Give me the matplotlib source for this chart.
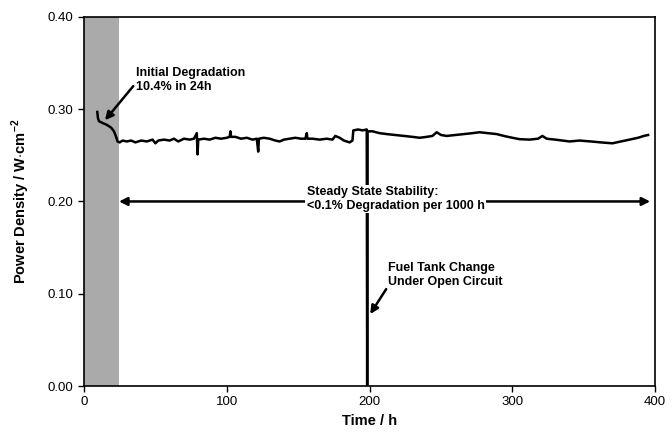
import matplotlib
matplotlib.use('Agg')
import matplotlib.pyplot as plt

plt.rcParams['font.family'] = ['Liberation Sans', 'DejaVu Sans']
plt.rcParams['mathtext.fontset'] = 'custom'
plt.rcParams['mathtext.rm'] = 'Liberation Sans'
plt.rcParams['mathtext.bf'] = 'Liberation Sans:bold'

# time (h) and power density (W/cm2)
time = [9.3, 9.8, 10.5, 13, 16, 19, 21, 22.5, 23.5, 25, 27, 30, 33, 36, 40, 44, 48, 50, 52,
        56, 60, 63, 66, 70, 74, 77, 79, 79.5, 80, 84, 88, 92, 96, 100, 102, 102.5, 103,
        106, 110, 114, 118, 121, 122, 122.5, 126, 130, 134, 137, 140, 144, 148, 152, 155,
        156, 156.5, 160, 165, 170, 174, 176, 179, 182, 186, 188, 188.6, 192, 195, 198,
        198.3, 198.6, 202, 207, 212, 218, 224, 230, 235, 240, 244, 247, 250, 254, 260,
        266, 272, 277, 283, 289, 294, 300, 305, 312, 318, 321, 324, 330, 335, 340, 347,
        355, 362, 370, 376, 382, 388, 392, 395]
power = [0.297, 0.290, 0.287, 0.285, 0.283, 0.280, 0.276, 0.270, 0.265, 0.264, 0.266, 0.265,
         0.266, 0.264, 0.266, 0.265, 0.267, 0.263, 0.266, 0.267, 0.266, 0.268, 0.265, 0.268,
         0.267, 0.268, 0.274, 0.251, 0.267, 0.268, 0.267, 0.269, 0.268, 0.269, 0.270, 0.276,
         0.270, 0.270, 0.268, 0.269, 0.267, 0.268, 0.254, 0.268, 0.269, 0.268, 0.266, 0.265,
         0.267, 0.268, 0.269, 0.268, 0.268, 0.274, 0.268, 0.268, 0.267, 0.268, 0.267, 0.271,
         0.269, 0.266, 0.264, 0.266, 0.277, 0.278, 0.277, 0.278, 0.0, 0.276, 0.276, 0.274,
         0.273, 0.272, 0.271, 0.270, 0.269, 0.270, 0.271, 0.275, 0.272, 0.271, 0.272, 0.273,
         0.274, 0.275, 0.274, 0.273, 0.271, 0.269, 0.2675, 0.267, 0.268, 0.271, 0.268, 0.267,
         0.266, 0.265, 0.266, 0.265, 0.264, 0.263, 0.265, 0.267, 0.269, 0.271, 0.272]

degradation_end = 24.5
xticks = [0, 100, 200, 300, 400]
yticks = [0.0, 0.1, 0.2, 0.3, 0.4]

fig = plt.figure(figsize=(6.72, 4.33), dpi=100)
ax = fig.add_axes([0.125, 0.1085, 0.85, 0.8525])

ax.axvspan(0, degradation_end, color='#aaaaaa', lw=0)
ax.plot(time, power, color='black', lw=1.8)

ax.set_xlim(0, 400)
ax.set_ylim(0, 0.4)
ax.set_xticks(xticks)
ax.set_yticks(yticks)
ax.set_yticklabels(['%.2f' % v for v in yticks])
ax.tick_params(labelsize=9.5, direction='out', length=4, width=1)
for s in ax.spines.values():
    s.set_linewidth(1.2)

ax.set_xlabel('Time / h', fontsize=10.5, fontweight='bold', labelpad=4)
ax.set_ylabel('Power Density / W$\\cdot$cm$^{\\mathbf{-2}}$', fontsize=10.5,
              fontweight='bold', labelpad=11)

arrow = dict(arrowstyle='-|>', color='black', lw=1.8, mutation_scale=12,
             shrinkA=0, shrinkB=0)

ax.text(36.4, 0.3455, 'Initial Degradation\n10.4% in 24h', fontsize=9,
        fontweight='bold', ha='left', va='top')
ax.annotate('', xy=(14.7, 0.288), xytext=(34.5, 0.325), arrowprops=arrow)

ax.annotate('', xy=(24.5, 0.2), xytext=(396.5, 0.2),
            arrowprops=dict(arrowstyle='<|-|>', color='black', lw=1.8, mutation_scale=12,
                            shrinkA=0, shrinkB=0))
ax.text(156, 0.2025, 'Steady State Stability:\n<0.1% Degradation per 1000 h', fontsize=9,
        fontweight='bold', ha='left', va='center',
        bbox=dict(facecolor='white', edgecolor='none', pad=1))

ax.text(213, 0.1344, 'Fuel Tank Change\nUnder Open Circuit', fontsize=9,
        fontweight='bold', ha='left', va='top')
ax.annotate('', xy=(200.4, 0.078), xytext=(211.6, 0.105), arrowprops=arrow)

fig.savefig('out.png', dpi=100)
